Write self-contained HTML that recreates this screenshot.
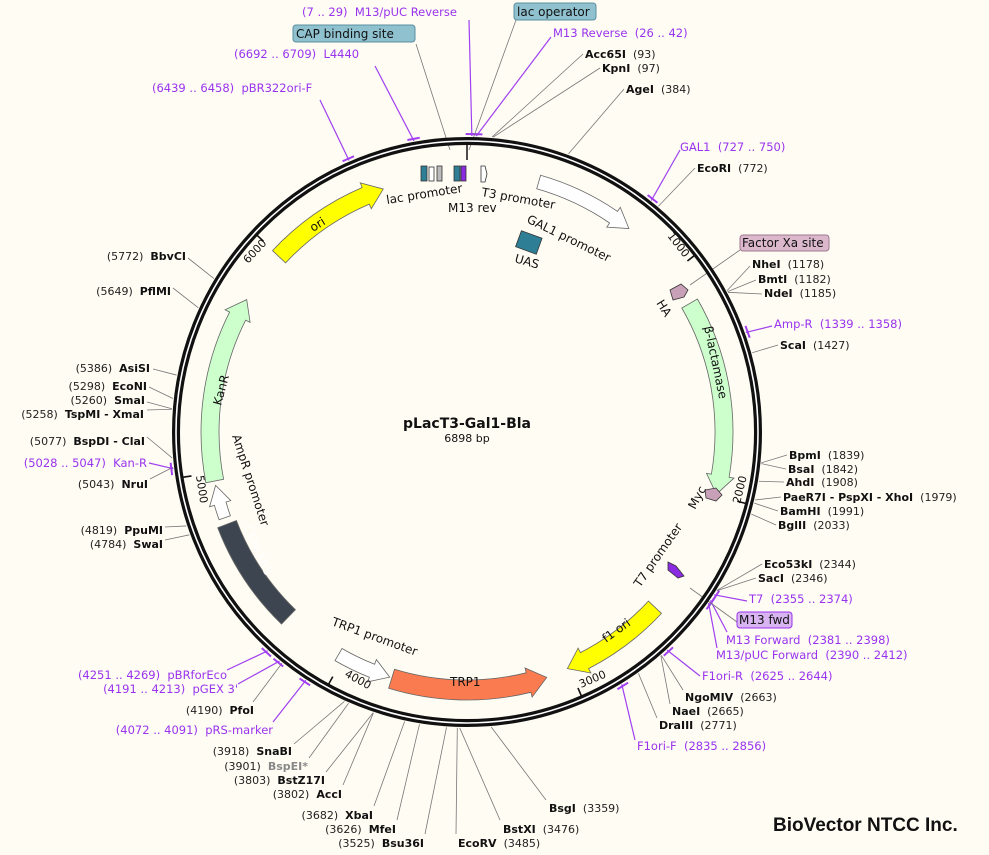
<!DOCTYPE html>
<html><head><meta charset="utf-8">
<style>
html,body{margin:0;padding:0;background:#fffcf3;}
svg{display:block;}
text{font-family:"DejaVu Sans","Liberation Sans",sans-serif;font-size:11px;fill:#111;white-space:pre;}
.b{font-weight:bold;}
.p{fill:#9933ee;font-size:11.5px;}
.n{fill:#222;}
.f{font-size:12px;}
</style></head>
<body>
<svg id="s" width="989" height="855" viewBox="0 0 989 855" xmlns="http://www.w3.org/2000/svg" xml:space="preserve">
<rect width="989" height="855" fill="#fffcf3"/>
<g id="lines"></g>
<circle cx="467" cy="432" r="291" fill="none" stroke="#111" stroke-width="8"/>
<circle cx="467" cy="432" r="291" fill="none" stroke="#fff" stroke-width="1.6"/>
<g id="ticks"></g>
<g id="feat"></g>
<line x1="467" y1="143" x2="467" y2="160" stroke="#111" stroke-width="1.5"/>
<g stroke="#333" stroke-width="0.8">
<rect x="421" y="166" width="6" height="15" fill="#2e7f96"/>
<rect x="429" y="167" width="5" height="14" fill="#fff"/>
<rect x="437" y="166" width="5" height="15" fill="#bbb"/>
<rect x="454" y="166" width="6" height="15" fill="#2e7f96"/>
<rect x="461" y="166" width="5" height="15" fill="#8a2be2"/>
<polygon points="481,166 485,166 487,174 485,182 481,182" fill="#fff"/>
<rect x="518" y="234" width="22" height="17" fill="#2e7f96" transform="rotate(20 529 242)"/>
<polygon points="670,290 681,284 688,290 684,297 673,300" fill="#c8a0b8" />
<polygon points="705,490 716,488 722,495 716,501 706,498" fill="#c8a0b8"/>
<polygon points="668,562 676,566 684,576 678,578 668,570" fill="#8a2be2"/>
</g>

<text class="f" transform="translate(313,232) rotate(-32)">ori</text>
<text class="f" transform="translate(387,204) rotate(-9)">lac promoter</text>
<text class="f" x="448" y="212">M13 rev</text>
<text class="f" transform="translate(481,196) rotate(10)">T3 promoter</text>
<text class="f" transform="translate(526,222) rotate(26)">GAL1 promoter</text>
<text class="f" transform="translate(514,262) rotate(16)">UAS</text>
<text class="f" transform="translate(656,303) rotate(58)">HA</text>
<text class="f" transform="translate(704,327) rotate(78)">β-lactamase</text>
<text class="f" transform="translate(695,510) rotate(-62)">Myc</text>
<text class="f" transform="translate(640,588) rotate(-55)">T7 promoter</text>
<text class="f" transform="translate(606,643) rotate(-36)">f1 ori</text>
<text class="f" x="450" y="686">TRP1</text>
<text class="f" transform="translate(331,625) rotate(20)">TRP1 promoter</text>
<text class="f" style="fill:#fff" transform="translate(243,528) rotate(65)">CEN/ARS</text>
<text class="f" transform="translate(232,436) rotate(72)">AmpR promoter</text>
<text class="f" transform="translate(221,406) rotate(-75)">KanR</text>

<text transform="translate(667,236) rotate(52)">1000</text>
<text transform="translate(740,504) rotate(-76)">2000</text>
<text transform="translate(581,688) rotate(-23)">3000</text>
<text transform="translate(344,676) rotate(29)">4000</text>
<text transform="translate(196,476) rotate(81)">5000</text>
<text transform="translate(248,264) rotate(-47)">6000</text>

<text x="467" y="428" text-anchor="middle" class="b" style="font-size:14px">pLacT3-Gal1-Bla</text>
<text x="467" y="442" text-anchor="middle" style="font-size:11px">6898 bp</text>

<text class="p" x="302" y="16">(7 .. 29)  M13/pUC Reverse</text>
<rect x="514" y="3" width="82" height="17" rx="3" fill="#8fc1cf" stroke="#5a8fa0"/>
<text class="f" x="517" y="16">lac operator</text>
<rect x="293" y="25" width="122" height="17" rx="3" fill="#8fc1cf" stroke="#5a8fa0"/>
<text class="f" x="296" y="38">CAP binding site</text>
<text class="p" x="553" y="37">M13 Reverse  (26 .. 42)</text>
<text class="p" x="234" y="58">(6692 .. 6709)  L4440</text>
<text x="585" y="58"><tspan class="b">Acc65I</tspan><tspan class="n">  (93)</tspan></text>
<text x="602" y="72"><tspan class="b">KpnI</tspan><tspan class="n">  (97)</tspan></text>
<text class="p" x="152" y="92">(6439 .. 6458)  pBR322ori-F</text>
<text x="626" y="93"><tspan class="b">AgeI</tspan><tspan class="n">  (384)</tspan></text>

<text class="p" x="680" y="151">GAL1  (727 .. 750)</text>
<text x="697" y="172"><tspan class="b">EcoRI</tspan><tspan class="n">  (772)</tspan></text>
<rect x="740" y="235" width="89" height="16" rx="3" fill="#dcb8cc" stroke="#a07890"/>
<text class="f" x="742" y="247">Factor Xa site</text>
<text x="752" y="268"><tspan class="b">NheI</tspan><tspan class="n">  (1178)</tspan></text>
<text x="758" y="283"><tspan class="b">BmtI</tspan><tspan class="n">  (1182)</tspan></text>
<text x="764" y="297"><tspan class="b">NdeI</tspan><tspan class="n">  (1185)</tspan></text>
<text class="p" x="774" y="328">Amp-R  (1339 .. 1358)</text>
<text x="780" y="349"><tspan class="b">ScaI</tspan><tspan class="n">  (1427)</tspan></text>
<text x="789" y="459"><tspan class="b">BpmI</tspan><tspan class="n">  (1839)</tspan></text>
<text x="788" y="473"><tspan class="b">BsaI</tspan><tspan class="n">  (1842)</tspan></text>
<text x="786" y="486"><tspan class="b">AhdI</tspan><tspan class="n">  (1908)</tspan></text>
<text x="783" y="501"><tspan class="b">PaeR7I - PspXI - XhoI</tspan><tspan class="n">  (1979)</tspan></text>
<text x="780" y="515"><tspan class="b">BamHI</tspan><tspan class="n">  (1991)</tspan></text>
<text x="778" y="529"><tspan class="b">BglII</tspan><tspan class="n">  (2033)</tspan></text>
<text x="764" y="568"><tspan class="b">Eco53kI</tspan><tspan class="n">  (2344)</tspan></text>
<text x="758" y="582"><tspan class="b">SacI</tspan><tspan class="n">  (2346)</tspan></text>
<text class="p" x="749" y="603">T7  (2355 .. 2374)</text>
<rect x="737" y="612" width="55" height="16" rx="3" fill="#d8b4f0" stroke="#9933ee"/>
<text class="f" x="739" y="624">M13 fwd</text>
<text class="p" x="726" y="644">M13 Forward  (2381 .. 2398)</text>
<text class="p" x="716" y="659">M13/pUC Forward  (2390 .. 2412)</text>
<text class="p" x="702" y="680">F1ori-R  (2625 .. 2644)</text>
<text x="685" y="701"><tspan class="b">NgoMIV</tspan><tspan class="n">  (2663)</tspan></text>
<text x="672" y="715"><tspan class="b">NaeI</tspan><tspan class="n">  (2665)</tspan></text>
<text x="659" y="729"><tspan class="b">DraIII</tspan><tspan class="n">  (2771)</tspan></text>
<text class="p" x="637" y="750">F1ori-F  (2835 .. 2856)</text>

<text x="549" y="812"><tspan class="b">BsgI</tspan><tspan class="n">  (3359)</tspan></text>
<text x="503" y="833"><tspan class="b">BstXI</tspan><tspan class="n">  (3476)</tspan></text>
<text x="458" y="847"><tspan class="b">EcoRV</tspan><tspan class="n">  (3485)</tspan></text>
<text x="424" y="847" text-anchor="end"><tspan class="n">(3525)  </tspan><tspan class="b">Bsu36I</tspan></text>
<text x="396" y="833" text-anchor="end"><tspan class="n">(3626)  </tspan><tspan class="b">MfeI</tspan></text>
<text x="373" y="819" text-anchor="end"><tspan class="n">(3682)  </tspan><tspan class="b">XbaI</tspan></text>
<text x="342" y="798" text-anchor="end"><tspan class="n">(3802)  </tspan><tspan class="b">AccI</tspan></text>
<text x="325" y="784" text-anchor="end"><tspan class="n">(3803)  </tspan><tspan class="b">BstZ17I</tspan></text>
<text x="308" y="770" text-anchor="end"><tspan class="n">(3901)  </tspan><tspan class="b" style="fill:#888">BspEI*</tspan></text>
<text x="292" y="755" text-anchor="end"><tspan class="n">(3918)  </tspan><tspan class="b">SnaBI</tspan></text>
<text class="p" x="273" y="734" text-anchor="end">(4072 .. 4091)  pRS-marker</text>
<text x="254" y="714" text-anchor="end"><tspan class="n">(4190)  </tspan><tspan class="b">PfoI</tspan></text>
<text class="p" x="238" y="693" text-anchor="end">(4191 .. 4213)  pGEX 3'</text>
<text class="p" x="227" y="679" text-anchor="end">(4251 .. 4269)  pBRforEco</text>

<text x="163" y="548" text-anchor="end"><tspan class="n">(4784)  </tspan><tspan class="b">SwaI</tspan></text>
<text x="163" y="534" text-anchor="end"><tspan class="n">(4819)  </tspan><tspan class="b">PpuMI</tspan></text>
<text x="148" y="488" text-anchor="end"><tspan class="n">(5043)  </tspan><tspan class="b">NruI</tspan></text>
<text class="p" x="147" y="467" text-anchor="end">(5028 .. 5047)  Kan-R</text>
<text x="145" y="445" text-anchor="end"><tspan class="n">(5077)  </tspan><tspan class="b">BspDI - ClaI</tspan></text>
<text x="144" y="418" text-anchor="end"><tspan class="n">(5258)  </tspan><tspan class="b">TspMI - XmaI</tspan></text>
<text x="145" y="404" text-anchor="end"><tspan class="n">(5260)  </tspan><tspan class="b">SmaI</tspan></text>
<text x="147" y="390" text-anchor="end"><tspan class="n">(5298)  </tspan><tspan class="b">EcoNI</tspan></text>
<text x="150" y="372" text-anchor="end"><tspan class="n">(5386)  </tspan><tspan class="b">AsiSI</tspan></text>
<text x="171" y="295" text-anchor="end"><tspan class="n">(5649)  </tspan><tspan class="b">PflMI</tspan></text>
<text x="186" y="260" text-anchor="end"><tspan class="n">(5772)  </tspan><tspan class="b">BbvCI</tspan></text>

<text x="773" y="831" class="b" style="font-size:19px;font-family:'Liberation Sans',sans-serif;">BioVector NTCC Inc.</text>
</svg>
<script>
(function(){
var NS="http://www.w3.org/2000/svg",cx=467,cy=432,T=6898;
function P(a,r){var t=a*Math.PI/180;return [cx+r*Math.sin(t),cy-r*Math.cos(t)];}
function f(p){return p[0].toFixed(1)+","+p[1].toFixed(1);}
function el(g,n,at){var e=document.createElementNS(NS,n);for(var k in at)e.setAttribute(k,at[k]);document.getElementById(g).appendChild(e);return e;}
var L=[[93,583,54,"#777"],[97,600,68,"#777"],[384,624,89,"#777"],[772,695,168,"#777"],
[1178,750,266,"#777"],[1182,756,280,"#777"],[1185,762,294,"#777"],[1427,778,345,"#777"],
[1839,787,455,"#777"],[1842,786,469,"#777"],[1908,784,482,"#777"],[1979,781,497,"#777"],[1991,778,511,"#777"],[2033,776,525,"#777"],
[2344,762,564,"#777"],[2346,756,578,"#777"],[2663,683,690,"#777"],[2665,670,704,"#777"],[2771,657,718,"#777"],
[3359,546,800,"#777"],[3476,500,820,"#777"],[3485,456,834,"#777"],[3525,425,834,"#777"],[3626,397,820,"#777"],[3682,374,806,"#777"],
[3802,343,785,"#777"],[3803,326,772,"#777"],[3901,309,758,"#777"],[3918,294,744,"#777"],[4190,253,702,"#777"],
[4784,165,540,"#777"],[4819,165,527,"#777"],[5043,150,479,"#777"],[5077,147,437,"#777"],[5258,147,410,"#777"],[5260,147,402,"#777"],
[5298,149,387,"#777"],[5386,153,369,"#777"],[5649,173,288,"#777"],[5772,188,258,"#777"],
[18,469,20,"#a040f0"],[34,551,37,"#a040f0"],[6700,375,66,"#a040f0"],[6448,320,100,"#a040f0"],[738,680,150,"#a040f0"],
[1348,772,326,"#a040f0"],[2364,747,601,"#a040f0"],[2389,727,632,"#a040f0"],[2401,717,648,"#a040f0"],[2634,700,676,"#a040f0"],
[2845,635,740,"#a040f0"],[4081,273,722,"#a040f0"],[4202,238,684,"#a040f0"],[4260,227,670,"#a040f0"],[5037,149,463,"#a040f0"]];
L.forEach(function(d){var p=P(d[0]/T*360,296);el("lines","line",{x1:d[1],y1:d[2],x2:p[0],y2:p[1],stroke:d[3],"stroke-width":d[3]=="#777"?0.8:1.2});
 if(d[3]!="#777"){var a=d[0]/T*360,q1=P(a-1.2,298),q2=P(a+1.2,298);el("lines","line",{x1:q1[0],y1:q1[1],x2:q2[0],y2:q2[1],stroke:d[3],"stroke-width":2});}});
[[416,44,450,150],[516,20,469,150],[740,250,690,285],[737,622,690,588]].forEach(function(d){el("lines","line",{x1:d[0],y1:d[1],x2:d[2],y2:d[3],stroke:"#777","stroke-width":0.8});});
for(var i=1;i<=6;i++){var a=i*1000/T*360,p1=P(a,279),p2=P(a,288);el("ticks","line",{x1:p1[0],y1:p1[1],x2:p2[0],y2:p2[1],stroke:"#111","stroke-width":1.6});}
function arrow(a1,a2,r,w,fill,head){var s=a2>a1?1:-1,h=(head===false)?0:4.2,ab=a2-s*h;var ro=r+w/2,ri=r-w/2;
 var sw=s>0?1:0,sw2=s>0?0:1,d;
 if(head===false){d="M"+f(P(a1,ro))+" A"+ro+","+ro+" 0 0 "+sw+" "+f(P(a2,ro))+" L"+f(P(a2,ri))+" A"+ri+","+ri+" 0 0 "+sw2+" "+f(P(a1,ri))+"Z";}
 else d="M"+f(P(a1,ro))+" A"+ro+","+ro+" 0 0 "+sw+" "+f(P(ab,ro))+" L"+f(P(ab,ro+5))+" L"+f(P(a2,r))+" L"+f(P(ab,ri-5))+" L"+f(P(ab,ri))+" A"+ri+","+ri+" 0 0 "+sw2+" "+f(P(a1,ri))+"Z";
 el("feat","path",{d:d,fill:fill,stroke:"#666","stroke-width":0.8});}
arrow(313,341,257,18,"#ffff00");
arrow(16,38.5,260,14,"#ffffff");
arrow(60,104,257,18,"#ccffcc");
arrow(259,301,257,18,"#ccffcc");
arrow(250.5,258,257,12,"#ffffff");
arrow(224,249,257,20,"#3d4650",false);
arrow(210,197.5,257,14,"#ffffff");
arrow(197,162,258,20,"#fa7b50");
arrow(133,157,257,18,"#ffff00");
})();
</script>
</body></html>
